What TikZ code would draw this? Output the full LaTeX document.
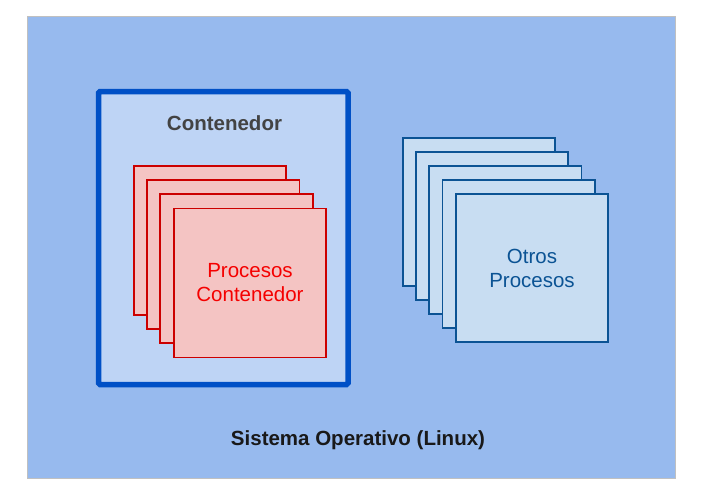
\documentclass[tikz,border=0pt]{standalone}
\usepackage{fontspec}
\setmainfont{Liberation Sans}
\definecolor{osfill}{HTML}{97BAEE}
\definecolor{osline}{HTML}{C0C0C0}
\definecolor{ctfill}{HTML}{BED4F5}
\definecolor{ctline}{HTML}{0050C6}
\definecolor{ctext}{HTML}{434343}
\definecolor{redfill}{HTML}{F4C4C3}
\definecolor{redline}{HTML}{CC0000}
\definecolor{redtext}{HTML}{F50000}
\definecolor{bluefill}{HTML}{C8DDF2}
\definecolor{blueline}{HTML}{0B5394}
\begin{document}
\begin{tikzpicture}[x=1pt,y=-1pt,
  rbox/.style={draw=redline, fill=redfill, line width=1.8pt, minimum width=152.5pt, minimum height=149pt, inner sep=0pt},
  bbox/.style={draw=blueline, fill=bluefill, line width=1.8pt, minimum width=152.3pt, minimum height=148pt, inner sep=0pt},
  boldlbl/.style={font=\fontsize{20.5}{24}\selectfont\bfseries},
  plainlbl/.style={font=\fontsize{20.5}{24}\selectfont, align=center}]
\useasboundingbox (0,0) rectangle (702,496);
\node[draw=osline, fill=osfill, line width=0.8pt, minimum width=648pt, minimum height=462pt, inner sep=0pt] (os) at (351,247) {};
\node[draw=ctline, fill=ctfill, line width=5.5pt, rounded corners=1.5pt, minimum width=249.5pt, minimum height=293pt, inner sep=0pt] (ct) at (223.25,238) {};
\node[boldlbl, text=ctext] (ctl) at (224.5,123.5) {Contenedor};
\node[rbox] (r1) at (210,240.2) {};
\node[rbox] (r2) at (223.3,254.2) {};
\node[rbox] (r3) at (236.6,268.2) {};
\node[rbox, plainlbl, text=redtext] (r4) at (250,283) {Procesos\\Contenedor};
\node[bbox] (b1) at (478.8,212.3) {};
\node[bbox] (b2) at (492.1,226.3) {};
\node[bbox] (b3) at (505.4,240.3) {};
\node[bbox] (b4) at (518.7,254.3) {};
\node[bbox, plainlbl, text=blueline] (b5) at (532,268.3) {Otros\\Procesos};
\node[boldlbl, text=black!90] (osl) at (358,440) {Sistema Operativo (Linux)};
\end{tikzpicture}
\end{document}
